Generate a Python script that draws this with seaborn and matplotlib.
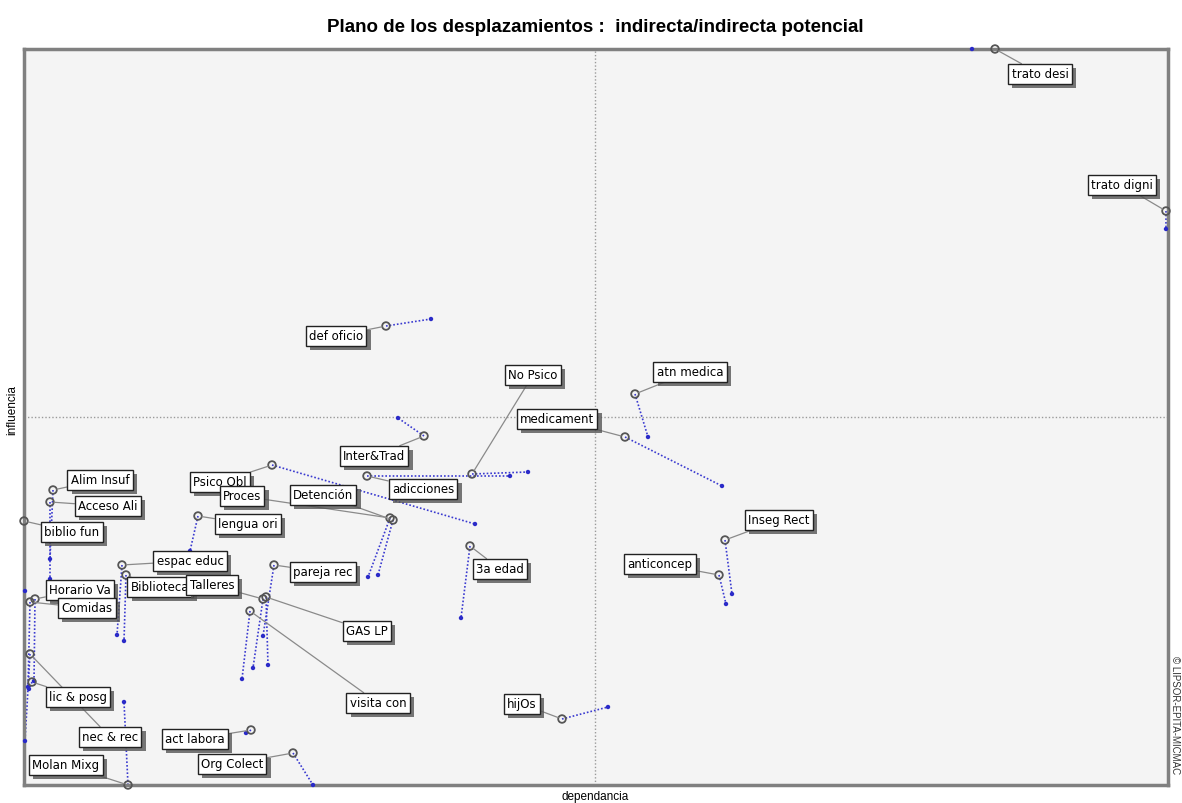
import numpy as np
import pandas as pd
import matplotlib
matplotlib.use("Agg")
import matplotlib.pyplot as plt
import matplotlib.patheffects as pe
import seaborn as sns

# variables del plano (MICMAC)
variables = ["trato desi", "trato digni", "def oficio", "No Psico", "adicciones",
             "Inter&Trad", "medicament", "atn medica", "Psico Obl", "Proces",
             "Detención", "lengua ori", "espac educ", "Biblioteca", "Talleres",
             "pareja rec", "GAS LP", "visita con", "3a edad", "Inseg Rect",
             "anticoncep", "hijOs", "act labora", "Org Colect", "Molan Mixg",
             "nec & rec", "lic & posg", "Horario Va", "Comidas", "biblio fun",
             "Alim Insuf", "Acceso Ali"]

# posicion indirecta
dep_ind = [971, 1142, 362, 448, 343, 400, 601, 611, 248, 366,
           369, 174, 98, 102, 239, 250, 242, 226, 446, 701,
           695, 538, 227, 269, 104, 6, 8, 11, 6, 0,
           29, 26]
inf_ind = [736, 574, 459, 311, 309, 349, 348, 391, 320, 267,
           265, 269, 220, 210, 186, 220, 188, 174, 239, 245,
           210, 66, 55, 32, 0, 131, 103, 186, 183, 264,
           295, 283]

# posicion indirecta potencial
dep_pot = [948, 1142, 407, 504, 486, 374, 698, 624, 451, 344,
           354, 166, 93, 100, 229, 239, 244, 218, 437, 708,
           702, 584, 222, 289, 100, 1, 5, 10, 4, 1,
           26, 26]
inf_pot = [736, 556, 466, 313, 309, 367, 299, 348, 261, 208,
           210, 234, 150, 144, 117, 149, 120, 106, 167, 191,
           181, 78, 52, 0, 83, 44, 96, 104, 98, 194,
           226, 206]

# posicion de las etiquetas (pixeles de la figura, desde arriba)
label_pos = {
    "trato desi": (1040, 75), "trato digni": (1122, 186), "def oficio": (336, 337),
    "No Psico": (533, 376), "adicciones": (423, 490), "Inter&Trad": (374, 457),
    "medicament": (557, 420), "atn medica": (690, 373), "Psico Obl": (220, 483),
    "Proces": (242, 497), "Detención": (323, 496), "lengua ori": (248, 525),
    "espac educ": (190, 562), "Biblioteca": (160, 588), "Talleres": (212, 586),
    "pareja rec": (323, 573), "GAS LP": (367, 632), "visita con": (378, 704),
    "3a edad": (500, 570), "Inseg Rect": (779, 521), "anticoncep": (660, 565),
    "hijOs": (522, 705), "act labora": (195, 740), "Org Colect": (232, 765),
    "Molan Mixg": (66, 766), "nec & rec": (110, 738), "lic & posg": (78, 698),
    "Horario Va": (80, 591), "Comidas": (87, 609), "biblio fun": (72, 533),
    "Alim Insuf": (100, 481), "Acceso Ali": (108, 507),
}

df = pd.DataFrame({"var": variables, "dep": dep_ind, "inf": inf_ind,
                   "dep_p": dep_pot, "inf_p": inf_pot})

sns.set_style("white")
plt.rcParams["font.family"] = ["DejaVu Sans"]

W, H = 1182, 804
fig = plt.figure(figsize=(W / 100, H / 100), dpi=100)
fig.patch.set_facecolor("white")
ax = fig.add_axes([24 / W, 18 / H, 1144 / W, 736 / H])
ax.set_facecolor("#f4f4f4")
ax.set_xlim(0, 1144)
ax.set_ylim(0, 736)

# ejes centrales
ax.axvline(571, color="#9a9a9a", lw=1, ls=(0, (1, 1.5)), zorder=1)
ax.axhline(368, color="#9a9a9a", lw=1, ls=(0, (1, 1.5)), zorder=1)

# desplazamientos
for _, r in df.iterrows():
    ax.plot([r.dep, r.dep_p], [r.inf, r.inf_p], color="#3a3ad0", lw=1.2,
            ls=(0, (1, 1.2)), zorder=2, clip_on=False)

sns.scatterplot(data=df, x="dep_p", y="inf_p", ax=ax, color="#2a2ac8", s=10,
                edgecolor="none", zorder=3, clip_on=False, legend=False)
sns.scatterplot(data=df, x="dep", y="inf", ax=ax, marker="o", s=30,
                facecolor="none", edgecolor="#555555", linewidth=1.3,
                zorder=4, clip_on=False, legend=False)

# etiquetas con sombra
for _, r in df.iterrows():
    lx, ly = label_pos[r["var"]]
    t = ax.annotate(r["var"], xy=(r.dep, r.inf), xytext=(lx, H - ly),
                    textcoords="figure pixels", ha="center", va="center",
                    fontsize=8.5, color="black", zorder=6,
                    bbox=dict(boxstyle="square,pad=0.28", fc="white", ec="#222222", lw=1),
                    arrowprops=dict(arrowstyle="-", color="#8a8a8a", lw=0.9,
                                    shrinkA=0, shrinkB=3))
    t.get_bbox_patch().set_path_effects([
        pe.SimplePatchShadow(offset=(3, -3), shadow_rgbFace="#555555", alpha=0.8),
        pe.Normal()])

for s in ax.spines.values():
    s.set_color("#808080")
    s.set_linewidth(2.5)
ax.set_xticks([])
ax.set_yticks([])
ax.set_xlabel("")
ax.set_ylabel("")

fig.text(595 / W, 1 - 28 / H, "Plano de los desplazamientos :  indirecta/indirecta potencial",
         ha="center", va="center", fontsize=13.5, fontweight="bold", color="black",
         family="Liberation Sans")
fig.text(595 / W, 1 - 797 / H, "dependancia", ha="center", va="center", fontsize=8.5,
         color="black", family="Liberation Sans")
fig.text(12 / W, 1 - 410 / H, "influencia", ha="center", va="center",
         rotation=90, fontsize=8.5, color="black", family="Liberation Sans")
fig.text(1175 / W, 1 - 715 / H, "© LIPSOR-EPITA-MICMAC", ha="center", va="center",
         rotation=-90, fontsize=7, color="#333333", family="Liberation Sans")

fig.savefig("out.png", dpi=100)
